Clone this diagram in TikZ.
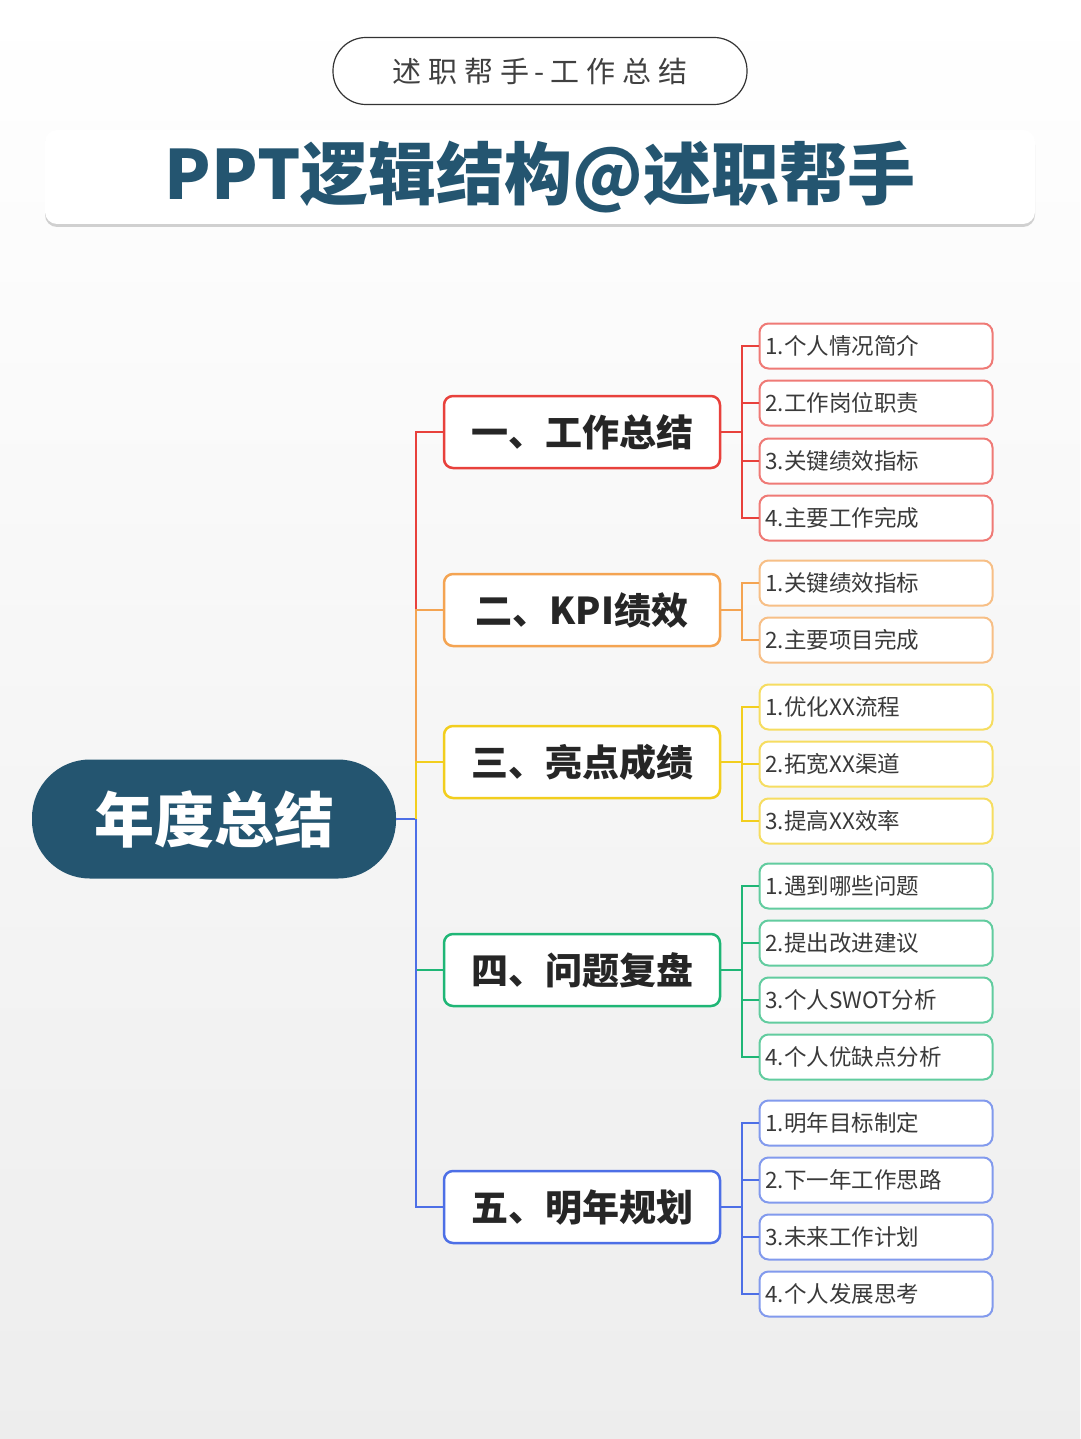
\documentclass[tikz,border=0pt]{standalone}
\usepackage{fontspec}
\setmainfont{Noto Sans CJK SC}
\usetikzlibrary{shadows}
\definecolor{teal}{HTML}{245570}
\definecolor{cR}{HTML}{E8413C}
\definecolor{cO}{HTML}{F4A452}
\definecolor{cY}{HTML}{F2CE1E}
\definecolor{cG}{HTML}{1FB676}
\definecolor{cB}{HTML}{4D6FE6}
\definecolor{txt}{HTML}{3A3A3A}
\begin{document}
\begin{tikzpicture}[x=1pt,y=-1pt,
 branch/.style={draw=#1,line width=2.5pt,fill=white,rounded corners=9pt,minimum width=276pt,minimum height=72pt,font=\fontsize{37}{42}\selectfont\bfseries,text=black!85},
 leaf/.style={draw=#1!70,line width=2pt,fill=white,rounded corners=9pt,minimum width=233pt,minimum height=45pt,font=\fontsize{22.5}{26}\selectfont,text=txt,text width=221pt,align=left,inner xsep=6pt,inner ysep=4pt},
 ln/.style={draw=#1,line width=2pt}]
\useasboundingbox (0,0) rectangle (1080,1439);
\shade[top color=white,bottom color=white!93!black] (0,0) rectangle (1080,1439);
\node[draw=black!80,line width=1.2pt,rounded corners=33pt,minimum width=414pt,minimum height=67pt,fill=white,font=\fontsize{29}{32}\selectfont,text=black!75] (tag) at (540,71) {述\hspace{7pt}职\hspace{7pt}帮\hspace{7pt}手\hspace{5pt}-\hspace{5pt}工\hspace{7pt}作\hspace{7pt}总\hspace{7pt}结};
\node[fill=white,rounded corners=12pt,minimum width=990pt,minimum height=94pt,drop shadow={shadow xshift=0pt,shadow yshift=-3pt,opacity=0.35},font=\fontsize{68}{72}\selectfont\bfseries,text=teal] (title) at (540,177) {PPT逻辑结构@述职帮手};
\node[fill=teal,rounded corners=58pt,minimum width=364pt,minimum height=119pt,font=\fontsize{60}{66}\selectfont\bfseries,text=white] (root) at (214,819) {年度总结};
\coordinate (t) at (416,819);
\def\bx{582}
\node[branch=cR] (b1) at (\bx,432) {一、工作总结};
\node[branch=cO] (b2) at (\bx,610) {二、KPI绩效};
\node[branch=cY] (b3) at (\bx,762) {三、亮点成绩};
\node[branch=cG] (b4) at (\bx,970) {四、问题复盘};
\node[branch=cB] (b5) at (\bx,1207) {五、明年规划};
\draw[ln=cB] (root.east) -- (t);
\draw[ln=cR] (b1.west) -| (416,610);
\draw[ln=cO] (b2.west) -| (416,762);
\draw[ln=cY] (b3.west) -| (t);
\draw[ln=cG] (b4.west) -- (416,970);
\draw[ln=cB] (b5.west) -| (t);
\def\lx{876}
\foreach \n/\c/\y/\s in {
 11/cR/346/1.个人情况简介,12/cR/403/2.工作岗位职责,13/cR/461/3.关键绩效指标,14/cR/518/4.主要工作完成,
 21/cO/583/1.关键绩效指标,22/cO/640/2.主要项目完成,
 31/cY/707/1.优化XX流程,32/cY/764/2.拓宽XX渠道,33/cY/821/3.提高XX效率,
 41/cG/886/1.遇到哪些问题,42/cG/943/2.提出改进建议,43/cG/1000/3.个人SWOT分析,44/cG/1057/4.个人优缺点分析,
 51/cB/1123/1.明年目标制定,52/cB/1180/2.下一年工作思路,53/cB/1237/3.未来工作计划,54/cB/1294/4.个人发展思考}
 {\node[leaf=\c] (l\n) at (\lx,\y) {\s};}
\foreach \b/\c/\a/\z/\m in {b1/cR/l11/l14/{l12,l13},b2/cO/l21/l22/{},b3/cY/l31/l33/{l32},b4/cG/l41/l44/{l42,l43},b5/cB/l51/l54/{l52,l53}}{
 \draw[ln=\c] (\b.east) -- (742,0 |- \b.east);
 \draw[ln=\c] (\a.west) -| (742,0 |- \b.east);
 \draw[ln=\c] (\z.west) -| (742,0 |- \b.east);
 \foreach \q in \m {\draw[ln=\c] (\q.west) -- (742,0 |- \q.west);}
}
\end{tikzpicture}
\end{document}
